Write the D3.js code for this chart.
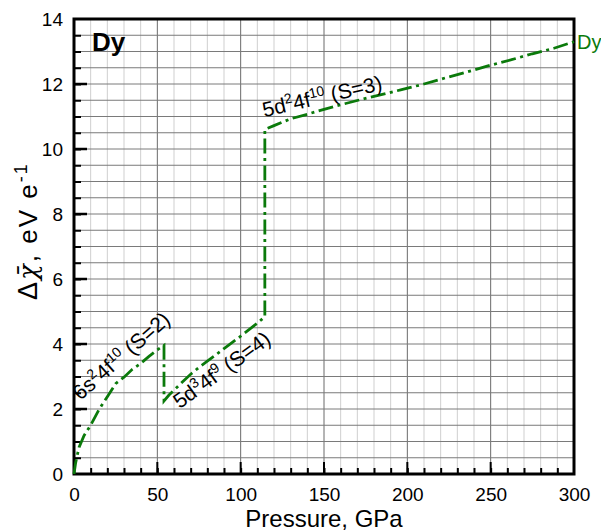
<!DOCTYPE html>
<html>
<head>
<meta charset="utf-8">
<script src="https://cdn.jsdelivr.net/npm/d3@7"></script>
<style>
  html, body { margin: 0; padding: 0; background: #fff; }
  svg { display: block; font-family: "Liberation Sans", Arial, Helvetica, sans-serif; }
</style>
</head>
<body>
<svg id="chart" width="601" height="532"></svg>
<script>
// Dy: electronegativity change vs pressure (one continuous trace with two jumps)
const pressure = [0, 1, 3, 6, 10, 15, 20, 25, 30, 35, 40, 45, 50, 54,
                  54, 57, 60, 65, 70, 75, 80, 85, 90, 95, 100, 105, 110, 114.5,
                  114.5, 120, 130, 140, 150, 160, 172, 185, 196, 210, 225, 240, 250, 262, 275, 288, 300];
const deltaChi = [0, 0.35, 0.82, 1.18, 1.5, 1.98, 2.38, 2.78, 2.98, 3.22, 3.4, 3.62, 3.82, 3.96,
                  2.25, 2.43, 2.58, 2.83, 3.07, 3.28, 3.47, 3.66, 3.86, 4.05, 4.24, 4.44, 4.64, 4.84,
                  10.6, 10.72, 10.93, 11.07, 11.22, 11.36, 11.52, 11.68, 11.82, 12.0, 12.22, 12.43, 12.58, 12.74, 12.93, 13.1, 13.3];

const xTicks = [0, 50, 100, 150, 200, 250, 300];
const yTicks = [0, 2, 4, 6, 8, 10, 12, 14];

// configuration labels placed along the trace: [pressure, value, angle, base, sup1, mid, sup2, tail]
const configLabels = [
  [3.8, 2.25, -41, "6s", "2", "4f", "10", " (S=2)"],
  [63.4, 1.99, -36, "5d", "3", "4f", "9", " (S=4)"],
  [114.2, 10.98, -13, "5d", "2", "4f", "10", " (S=3)"]
];

const seriesName = "Dy";
const lineColor = "#0b7a0b";

const svg = d3.select("#chart");
const margin = { left: 74, right: 27, top: 19, bottom: 58 };
const W = 601, H = 532;

const x = d3.scaleLinear().domain([0, 300]).range([margin.left, W - margin.right]);
const y = d3.scaleLinear().domain([0, 14]).range([H - margin.bottom, margin.top]);

// grid
const g = svg.append("g");
d3.range(10, 300, 10).forEach(v => {
  g.append("line")
    .attr("x1", x(v)).attr("x2", x(v))
    .attr("y1", y(0)).attr("y2", y(14))
    .attr("stroke", v % 50 === 0 ? "#6a6a6a" : "#cfcfcf")
    .attr("stroke-width", 1);
});
d3.range(0.5, 14, 0.5).forEach(v => {
  g.append("line")
    .attr("x1", x(0)).attr("x2", x(300))
    .attr("y1", y(v)).attr("y2", y(v))
    .attr("stroke", "#7a7a7a")
    .attr("stroke-width", 1);
});

// axes with inward ticks
const xAxisMinor = d3.axisTop(x).tickValues(d3.range(10, 300, 10)).tickSize(6).tickFormat("");
const xAxisMajor = d3.axisBottom(x).tickValues(xTicks).tickSize(0).tickPadding(14).tickFormat(d3.format("d"));
const yAxisMinor = d3.axisRight(y).tickValues(d3.range(0.5, 14, 0.5)).tickSize(7).tickFormat("");
const yAxisMajor = d3.axisLeft(y).tickValues(yTicks).tickSize(0).tickPadding(11).tickFormat(d3.format("d"));

const xm = svg.append("g").attr("transform", `translate(0,${y(0)})`).call(xAxisMinor);
xm.selectAll("line").attr("stroke", "#000").attr("stroke-width", 2);
const xM = svg.append("g").attr("transform", `translate(0,${y(0)})`).call(xAxisMajor);
xM.selectAll("text").attr("font-size", 19).attr("fill", "#000").attr("font-family", "Liberation Sans, Arial, sans-serif");
// long inward ticks at labelled positions
xTicks.slice(1, -1).forEach(v => {
  svg.append("line").attr("x1", x(v)).attr("x2", x(v)).attr("y1", y(0)).attr("y2", y(0) - 12)
    .attr("stroke", "#000").attr("stroke-width", 2);
});

const ym = svg.append("g").attr("transform", `translate(${x(0)},0)`).call(yAxisMinor);
ym.selectAll("line").attr("stroke", "#000").attr("stroke-width", 2);
const yM = svg.append("g").attr("transform", `translate(${x(0)},0)`).call(yAxisMajor);
yM.selectAll("text").attr("font-size", 19).attr("fill", "#000").attr("font-family", "Liberation Sans, Arial, sans-serif");
yTicks.slice(1, -1).forEach(v => {
  svg.append("line").attr("x1", x(0)).attr("x2", x(0) + 13).attr("y1", y(v)).attr("y2", y(v))
    .attr("stroke", "#000").attr("stroke-width", 2.5);
});
svg.selectAll(".domain").remove();

// frame
svg.append("rect")
  .attr("x", x(0)).attr("y", y(14))
  .attr("width", x(300) - x(0)).attr("height", y(0) - y(14))
  .attr("fill", "none").attr("stroke", "#000").attr("stroke-width", 3);

// trace
const pts = pressure.map((p, i) => [p, deltaChi[i]]);
svg.append("path")
  .datum(pts)
  .attr("d", d3.line().x(d => x(d[0])).y(d => y(d[1])))
  .attr("fill", "none")
  .attr("stroke", lineColor)
  .attr("stroke-width", 2.8)
  .attr("stroke-dasharray", "15,4.5,3,4.5");

// series name at trace end
svg.append("text")
  .attr("x", x(300) + 3).attr("y", y(deltaChi[deltaChi.length - 1]) + 7)
  .attr("font-size", 20).attr("fill", lineColor)
  .text(seriesName);

// element name
svg.append("text")
  .attr("x", x(0) + 18).attr("y", y(14) + 32)
  .attr("font-size", 26).attr("font-weight", "bold").attr("fill", "#000")
  .text("Dy");

// configuration labels
configLabels.forEach(([p, v, ang, base, s1, mid, s2, tail]) => {
  const t = svg.append("text")
    .attr("transform", `translate(${x(p)},${y(v)}) rotate(${ang})`)
    .attr("font-size", 21).attr("fill", "#000");
  t.append("tspan").text(base);
  t.append("tspan").attr("font-size", 14).attr("dy", -8).text(s1);
  t.append("tspan").attr("dy", 8).text(mid);
  t.append("tspan").attr("font-size", 14).attr("dy", -8).text(s2);
  t.append("tspan").attr("dy", 8).text(tail);
});

// axis titles
svg.append("text")
  .attr("x", (x(0) + x(300)) / 2).attr("y", 527)
  .attr("text-anchor", "middle").attr("font-size", 24).attr("fill", "#000")
  .text("Pressure, GPa");

const yt = svg.append("text")
  .attr("transform", `translate(37,300) rotate(-90)`)
  .attr("text-anchor", "start").attr("font-size", 26).attr("fill", "#000")
  .attr("letter-spacing", 2);
yt.append("tspan").attr("font-size", 27).text("Δ");
yt.append("tspan").attr("font-style", "italic").attr("font-family", "DejaVu Serif, serif").attr("font-size", 26).text("χ\u0304");
yt.append("tspan").text(", eV e");
yt.append("tspan").attr("font-size", 18).attr("dy", -10).text("-1");
</script>
</body>
</html>
